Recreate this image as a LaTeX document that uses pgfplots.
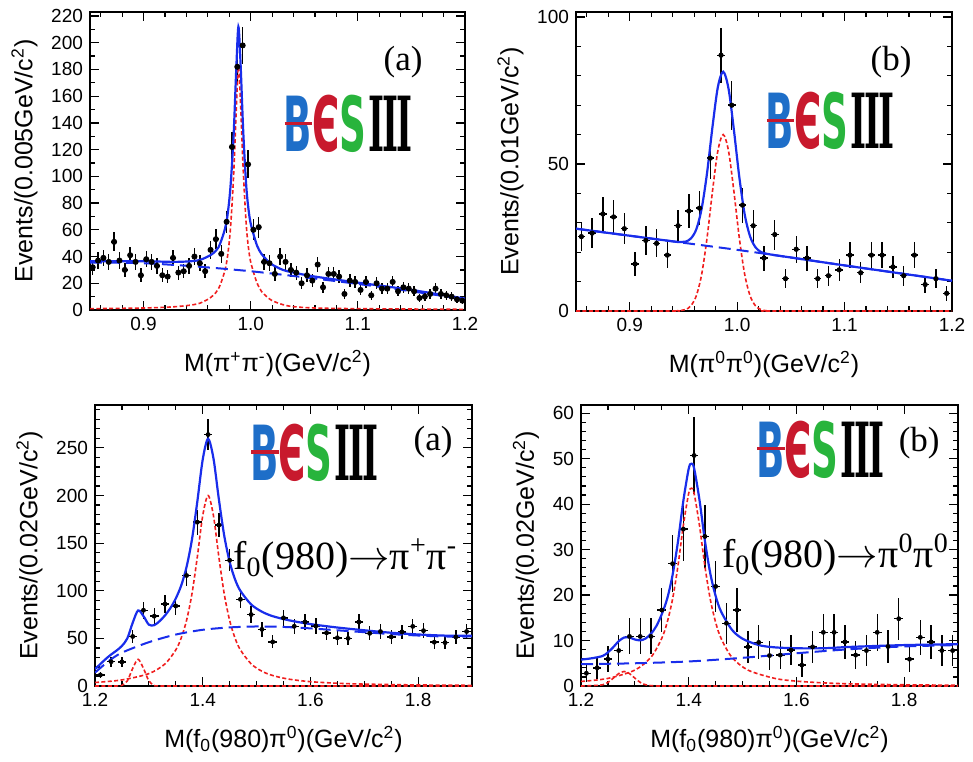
\documentclass[border=0pt]{standalone}
\usepackage{fontspec}
\setmainfont{Liberation Sans}
\newfontfamily\serif{Liberation Serif}
\newfontfamily\logofont{DejaVu Sans}
\newfontfamily\logoserif{DejaVu Serif}
\usepackage{graphicx}
\usepackage{pgfplots}
\pgfplotsset{compat=1.18}

\definecolor{fitblue}{RGB}{25,45,235}
\definecolor{fitred}{RGB}{240,30,30}
\definecolor{besblue}{RGB}{30,110,200}
\definecolor{besred}{RGB}{200,25,45}
\definecolor{besgreen}{RGB}{40,180,60}

% BESIII logo
\newcommand{\besiii}{\mbox{%
  \scalebox{0.49}[1]{\logofont\bfseries\fontsize{38}{38}\selectfont
    \textcolor{besblue}{B}\llap{\textcolor{besred}{\rule[0.35em]{0.74em}{1.6pt}}}%
    \textcolor{besred}{Є}\textcolor{besgreen}{S}}%
  \kern1pt
  \scalebox{0.45}[1]{\logoserif\bfseries\fontsize{38}{38}\selectfont I\kern-0.06em I\kern-0.06em I}}}

\pgfplotsset{
  bes/.style={
    scale only axis, anchor=south west,
    axis line style={line width=0.9pt},
    every tick/.style={black, line width=0.6pt},
    major tick length=4.5pt, minor tick length=2.5pt,
    tick align=inside,
    tick label style={font=\fontsize{9.5}{11}\selectfont},
    label style={font=\fontsize{12.5}{14}\selectfont},
    /pgf/number format/assume math mode=true,
    xticklabel style={/pgf/number format/fixed, /pgf/number format/fixed zerofill, /pgf/number format/precision=1},
    xlabel style={yshift=-3pt},
  },
  pts/.style 2 args={black, only marks, mark=*, mark size=#1,
    error bars/.cd, x dir=both, x fixed=#2, y dir=both, y explicit, error mark=none,
    error bar style={line width=0.7pt, black}},
  tot/.style={fitblue, line width=1.1pt, smooth, no marks},
  bkg/.style={fitblue, line width=1.0pt, dash pattern=on 6pt off 3pt, smooth, no marks},
  sig/.style={fitred, line width=0.8pt, dash pattern=on 2pt off 1.2pt, smooth, no marks},
}

\begin{document}
\begin{tikzpicture}
\useasboundingbox (0,0) rectangle (486.5pt,380.5pt);

% ---------------- top left: M(pi+ pi-)
\begin{axis}[bes, at={(45pt,225.5pt)}, width=187.5pt, height=149pt,
  xmin=0.85, xmax=1.2, ymin=0, ymax=223,
  xtick={0.8,0.9,1.0,1.1,1.2}, minor x tick num=4,
  ytick={0,20,...,220}, minor y tick num=1,
  xlabel={M(π\textsuperscript{+}π\textsuperscript{-})(GeV/c\textsuperscript{2})},
  ylabel={Events/(0.005GeV/c\textsuperscript{2})}]
\addplot[pts={1.3pt}{0.0025}] table[x=x, y=y, y error expr={sqrt(\thisrow{y})}] {
x y
0.8525 32
0.8575 37
0.8625 39
0.8675 36
0.8725 51
0.8775 37
0.8825 30
0.8875 41
0.8925 36
0.8975 26
0.9025 38
0.9075 36
0.9125 33
0.9175 26
0.9225 25
0.9275 39
0.9325 28
0.9375 29
0.9425 33
0.9475 40
0.9525 35
0.9575 29
0.9625 45
0.9675 53
0.9725 42
0.9775 66
0.9825 122
0.9875 182
0.9925 198
0.9975 109
1.0025 60
1.0075 62
1.0125 36
1.0175 35
1.0225 27
1.0275 40
1.0325 36
1.0375 30
1.0425 28
1.0475 20
1.0525 26
1.0575 22
1.0625 34
1.0675 17
1.0725 27
1.0775 27
1.0825 25
1.0875 12
1.0925 22
1.0975 21
1.1025 15
1.1075 21
1.1125 11
1.1175 20
1.1225 16
1.1275 16
1.1325 21
1.1375 14
1.1425 17
1.1475 16
1.1525 14
1.1575 9
1.1625 10
1.1675 12
1.1725 16
1.1775 12
1.1825 11
1.1875 10
1.1925 8
1.1975 7
};
\addplot[sig] coordinates {(0.85,1.0)(0.9,1.5)(0.93,2.5)(0.95,4.5)(0.96,8)(0.965,11)(0.97,16)(0.975,27)(0.978,38)(0.981,60)(0.984,100)(0.9865,150)(0.9885,182)(0.9905,155)(0.993,105)(0.996,62)(0.999,40)(1.002,30)(1.006,20)(1.01,14)(1.015,10)(1.02,7)(1.03,4)(1.04,2.5)(1.06,1.5)(1.1,1)(1.2,0.5)};
\addplot[bkg] coordinates {(0.85,35.5)(0.9,35)(0.95,32.5)(1.0,29)(1.05,24.5)(1.1,19.5)(1.15,14)(1.2,8)};
\addplot[tot] coordinates {(0.85,36.5)(0.9,36.5)(0.93,36)(0.95,37)(0.96,40)(0.965,42.5)(0.97,47)(0.975,58)(0.978,69)(0.981,91)(0.984,130)(0.9865,180)(0.9885,212)(0.9905,185)(0.993,134)(0.996,91)(0.999,69)(1.002,58.5)(1.006,48)(1.01,42)(1.015,37.5)(1.02,34)(1.03,30)(1.04,28)(1.06,25)(1.1,20.5)(1.15,15)(1.2,8.5)};
\node[font=\serif\fontsize{17.5}{20}\selectfont] at (rel axis cs:0.835,0.832) {(a)};
\node at (rel axis cs:0.688,0.624) {\besiii};
\end{axis}

% ---------------- top right: M(pi0 pi0)
\begin{axis}[bes, at={(288pt,225pt)}, width=188pt, height=149.5pt,
  xmin=0.85, xmax=1.2, ymin=0, ymax=101.7,
  xtick={0.8,0.9,1.0,1.1,1.2}, minor x tick num=4,
  ytick={0,50,100}, minor y tick num=4,
  xlabel={M(π\textsuperscript{0}π\textsuperscript{0})(GeV/c\textsuperscript{2})},
  ylabel={Events/(0.01GeV/c\textsuperscript{2})}]
\addplot[pts={1.1pt}{0.0035}] table[x=x, y=y, y error expr={sqrt(\thisrow{y})}] {
x y
0.855 25.3
0.865 26.5
0.875 33
0.885 32
0.895 28
0.905 16
0.915 24
0.925 23
0.935 19
0.945 29
0.955 34
0.965 35
0.975 52
0.985 87
0.995 70
1.005 36
1.015 29
1.025 18
1.035 26
1.045 11
1.055 21
1.065 18
1.075 11
1.085 12
1.095 14
1.105 19
1.115 13
1.125 19
1.135 19
1.145 15
1.155 12
1.165 19
1.175 9
1.185 11
1.195 6
};
\addplot[sig] coordinates {(0.85,0)(0.94,0)(0.945,0.1)(0.952,0.5)(0.957,1.8)(0.962,5.2)(0.967,12.5)(0.972,24.9)(0.977,40.6)(0.982,54.4)(0.987,60)(0.992,54.4)(0.997,40.6)(1.002,24.9)(1.007,12.5)(1.012,5.2)(1.017,1.8)(1.022,0.5)(1.027,0.1)(1.035,0)(1.2,0)};
\addplot[bkg] coordinates {(0.85,28)(0.9,25.6)(0.95,23.2)(1.0,20.8)(1.05,18.2)(1.1,15.5)(1.15,12.9)(1.2,10.3)};
\addplot[tot] coordinates {(0.85,28)(0.9,25.6)(0.94,23.7)(0.945,23.5)(0.952,23.6)(0.957,24.7)(0.962,27.8)(0.967,34.9)(0.972,47)(0.977,62.5)(0.982,76.1)(0.987,81.4)(0.992,75.6)(0.997,61.5)(1.002,45.6)(1.007,32.9)(1.012,25.4)(1.017,21.7)(1.022,20.1)(1.027,19.5)(1.035,19.0)(1.05,18.2)(1.1,15.5)(1.2,10.3)};
\node[font=\serif\fontsize{17.5}{20}\selectfont] at (rel axis cs:0.838,0.833) {(b)};
\node at (rel axis cs:0.676,0.635) {\besiii};
\end{axis}

% ---------------- bottom left: M(f0 pi0), f0 -> pi+ pi-
\begin{axis}[bes, at={(47.5pt,37.5pt)}, width=188.5pt, height=140.5pt,
  xmin=1.2, xmax=1.9, ymin=0, ymax=295,
  xtick={1.2,1.4,1.6,1.8}, minor x tick num=3,
  ytick={0,50,...,300}, minor y tick num=4,
  xlabel={M(f\textsubscript{0}(980)π\textsuperscript{0})(GeV/c\textsuperscript{2})},
  ylabel={Events/(0.02GeV/c\textsuperscript{2})}]
\addplot[pts={1.0pt}{0.008}] table[x=x, y=y, y error expr={sqrt(\thisrow{y})}] {
x y
1.21 11.6
1.23 25.5
1.25 25.3
1.27 52
1.29 79.5
1.31 73.3
1.33 86
1.35 84
1.37 116
1.39 172
1.41 264
1.43 169
1.45 132
1.47 91
1.49 75
1.51 59.5
1.53 46.3
1.55 71.5
1.57 62.7
1.59 67.2
1.61 63
1.63 55.8
1.65 50.6
1.67 50
1.69 67.2
1.71 55.3
1.73 57.2
1.75 51.6
1.77 56.8
1.79 62.6
1.81 58.1
1.83 46
1.85 45.5
1.87 51.5
1.89 57.2
};
\addplot[sig] coordinates {(1.2,3.7)(1.25,6.4)(1.3,13.0)(1.33,23.2)(1.35,37.9)(1.36,50.3)(1.37,68.9)(1.38,96.6)(1.39,135.5)(1.40,178.7)(1.41,200)(1.42,178.7)(1.43,135.5)(1.44,96.6)(1.45,68.9)(1.46,50.3)(1.47,37.9)(1.49,23.2)(1.51,15.5)(1.53,11.0)(1.56,7.2)(1.6,4.55)(1.65,2.9)(1.7,2.0)(1.8,1.1)(1.9,0.7)};
\addplot[sig] coordinates {(1.2,0)(1.24,0.05)(1.25,0.7)(1.26,5.4)(1.27,18.5)(1.28,28)(1.29,18.5)(1.30,5.4)(1.31,0.7)(1.32,0.05)(1.4,0)(1.9,0)};
\addplot[bkg] coordinates {(1.2,14)(1.225,26)(1.25,35)(1.3,46)(1.35,54)(1.4,59)(1.45,61.5)(1.5,62.5)(1.55,62)(1.6,60.5)(1.65,58.5)(1.7,56.5)(1.75,54.5)(1.8,53)(1.85,52)(1.9,52)};
\addplot[tot] coordinates {(1.2,17.7)(1.21,23.1)(1.22,28.4)(1.23,33.1)(1.24,37.2)(1.25,42.1)(1.26,50.0)(1.27,66.4)(1.28,79.3)(1.29,73.4)(1.30,64.4)(1.31,63.9)(1.32,68.1)(1.33,74.1)(1.34,81.8)(1.35,91.9)(1.36,105.4)(1.37,125)(1.38,153.7)(1.39,193.6)(1.40,237.7)(1.41,259.6)(1.42,238.8)(1.43,196.1)(1.44,157.7)(1.45,130.4)(1.46,112)(1.47,99.9)(1.49,85.6)(1.51,78)(1.53,73.3)(1.56,69)(1.6,65)(1.65,61.4)(1.7,58.5)(1.75,55.9)(1.8,54.1)(1.85,52.9)(1.9,52.7)};
\node at (rel axis cs:0.582,0.831) {\besiii};
\node[font=\serif\fontsize{17.5}{20}\selectfont] at (rel axis cs:0.897,0.868) {(a)};
\node[anchor=base west, inner sep=0pt, font=\serif\fontsize{20}{22}\selectfont] at (rel axis cs:0.366,0.413) {f\textsubscript{0}(980)$\rightarrow$π\textsuperscript{+}π\textsuperscript{-}};
\end{axis}

% ---------------- bottom right: M(f0 pi0), f0 -> pi0 pi0
\begin{axis}[bes, at={(290.5pt,37.5pt)}, width=188.5pt, height=140.5pt,
  xmin=1.2, xmax=1.9, ymin=0, ymax=61.8,
  xtick={1.2,1.4,1.6,1.8}, minor x tick num=3,
  ytick={0,10,...,60}, minor y tick num=4,
  xlabel={M(f\textsubscript{0}(980)π\textsuperscript{0})(GeV/c\textsuperscript{2})},
  ylabel={Events/(0.02GeV/c\textsuperscript{2})}]
\addplot[pts={1.0pt}{0.008}] table[x=x, y=y, y error expr={1.2*sqrt(\thisrow{y})}] {
x y
1.21 2.8
1.23 4.0
1.25 5.9
1.27 7.8
1.29 10.9
1.31 10.9
1.33 10.9
1.35 16.7
1.37 26.9
1.39 34.5
1.41 50.7
1.43 32.9
1.45 21.9
1.47 13.8
1.49 16.7
1.51 8.6
1.53 9.6
1.55 6.7
1.57 6.8
1.59 7.9
1.61 4.6
1.63 8.6
1.65 11.8
1.67 11.8
1.69 9.7
1.71 6.8
1.73 7.8
1.75 11.8
1.77 8.7
1.79 14.8
1.81 5.9
1.83 10.7
1.85 9.7
1.87 7.8
1.89 7.8
};
\addplot[sig] coordinates {(1.2,1.0)(1.25,1.67)(1.3,3.5)(1.33,6.35)(1.35,10.5)(1.36,14.0)(1.37,19.1)(1.38,26.4)(1.39,35.3)(1.40,42.4)(1.405,43.5)(1.41,42.4)(1.42,35.3)(1.43,26.4)(1.44,19.1)(1.45,14.0)(1.46,10.5)(1.48,6.35)(1.51,3.5)(1.56,1.67)(1.6,1.07)(1.65,0.69)(1.7,0.47)(1.8,0.27)(1.9,0.17)};
\addplot[sig] coordinates {(1.2,0)(1.22,0.08)(1.24,0.27)(1.25,0.8)(1.26,1.73)(1.27,2.74)(1.28,3.2)(1.29,2.74)(1.30,1.73)(1.31,0.8)(1.32,0.27)(1.34,0.01)(1.4,0)(1.9,0)};
\addplot[bkg] coordinates {(1.2,4.8)(1.3,5.0)(1.4,5.4)(1.5,6.2)(1.6,7.2)(1.7,8.1)(1.8,8.7)(1.9,9.0)};
\addplot[tot] coordinates {(1.2,5.8)(1.22,6.1)(1.24,6.6)(1.25,7.4)(1.26,8.55)(1.27,9.86)(1.28,10.66)(1.29,10.67)(1.30,10.23)(1.31,10.04)(1.32,10.45)(1.33,11.5)(1.34,13.2)(1.35,15.8)(1.36,19.2)(1.37,24.4)(1.38,31.7)(1.39,40.7)(1.40,47.8)(1.405,48.9)(1.41,47.9)(1.42,40.9)(1.43,32.0)(1.44,24.8)(1.45,19.8)(1.46,16.4)(1.48,12.4)(1.5,10.4)(1.53,9.0)(1.56,8.5)(1.6,8.3)(1.65,8.3)(1.7,8.6)(1.8,9.0)(1.9,9.2)};
\node at (rel axis cs:0.635,0.842) {\besiii};
\node[font=\serif\fontsize{17.5}{20}\selectfont] at (rel axis cs:0.897,0.865) {(b)};
\node[anchor=base west, inner sep=0pt, font=\serif\fontsize{20}{22}\selectfont] at (rel axis cs:0.373,0.42) {f\textsubscript{0}(980)$\rightarrow$π\textsuperscript{0}π\textsuperscript{0}};
\end{axis}
\end{tikzpicture}
\end{document}
